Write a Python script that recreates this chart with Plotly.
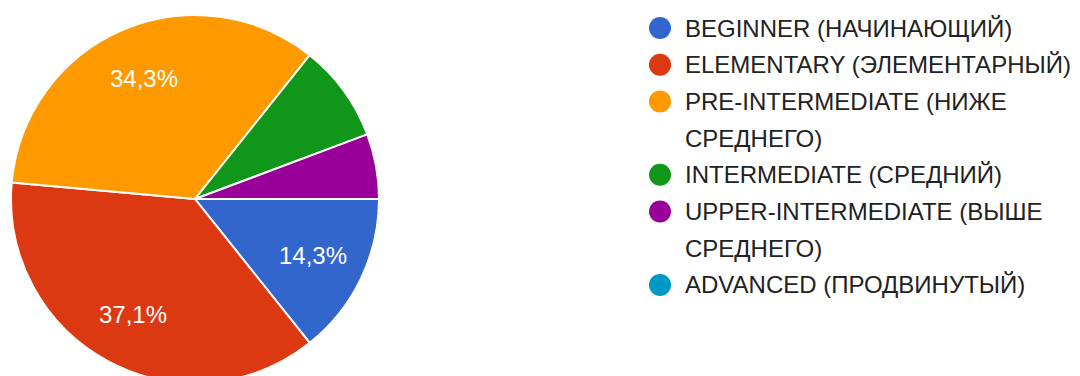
import math
import plotly.graph_objects as go

# Survey answers: English level of respondents
levels = [
    "BEGINNER (НАЧИНАЮЩИЙ)",
    "ELEMENTARY (ЭЛЕМЕНТАРНЫЙ)",
    "PRE-INTERMEDIATE (НИЖЕ СРЕДНЕГО)",
    "INTERMEDIATE (СРЕДНИЙ)",
    "UPPER-INTERMEDIATE (ВЫШЕ СРЕДНЕГО)",
    "ADVANCED (ПРОДВИНУТЫЙ)",
]
# legend text, wrapped the way it is printed
legend_lines = [
    ["BEGINNER (НАЧИНАЮЩИЙ)"],
    ["ELEMENTARY (ЭЛЕМЕНТАРНЫЙ)"],
    ["PRE-INTERMEDIATE (НИЖЕ", "СРЕДНЕГО)"],
    ["INTERMEDIATE (СРЕДНИЙ)"],
    ["UPPER-INTERMEDIATE (ВЫШЕ", "СРЕДНЕГО)"],
    ["ADVANCED (ПРОДВИНУТЫЙ)"],
]
responses = [5, 13, 12, 3, 2, 0]
show_pct = [True, True, True, False, False, False]

colors = ["#3366cc", "#dc3912", "#ff9900", "#109618", "#990099", "#0099c6"]
FONT = "Liberation Sans, Arial, sans-serif"
TEXT_COLOR = "#222222"

W, H = 1080, 384
# pie geometry, px (y measured from the top)
PIE_CX, PIE_CY, PIE_R = 195, 199, 184
LABEL_RADIUS = 0.71          # fraction of the radius where slice labels sit
START_ANGLE = 90             # first slice starts at 3 o'clock
# legend geometry, px
LINE_H = 36.7
FIRST_LINE = 28
DOT_X = 660
TEXT_X = 683

fig = go.Figure()

fig.add_trace(go.Pie(
    labels=levels,
    values=responses,
    sort=False,
    direction="clockwise",
    rotation=START_ANGLE,
    marker=dict(colors=colors, line=dict(color="white", width=2)),
    textinfo="none",
    domain=dict(x=[(PIE_CX - PIE_R) / W, (PIE_CX + PIE_R) / W],
                y=[(H - PIE_CY - PIE_R) / H, (H - PIE_CY + PIE_R) / H]),
    showlegend=False,
    hoverinfo="label+percent",
))

annotations = []

# percentage labels on the larger slices, placed along each slice's bisector
total = sum(responses)
cum = 0
for v, show in zip(responses, show_pct):
    mid = cum + v / 2
    cum += v
    if not show:
        continue
    # clockwise from 3 o'clock, screen y grows downward
    ang = math.radians(360 * mid / total)
    lx = PIE_CX + LABEL_RADIUS * PIE_R * math.cos(ang)
    ly = PIE_CY + LABEL_RADIUS * PIE_R * math.sin(ang)
    pct = f"{100 * v / total:.1f}".replace(".", ",") + "%"
    annotations.append(dict(
        x=lx, y=ly, xref="x", yref="y", text=pct, showarrow=False,
        xanchor="center", yanchor="middle",
        font=dict(family=FONT, size=24, color="white"),
    ))

# legend rows: one dot per level, placed on its first text line
start_line = []
idx = 0
for lines in legend_lines:
    start_line.append(idx)
    idx += len(lines)

fig.add_trace(go.Scatter(
    x=[DOT_X] * len(levels),
    y=[FIRST_LINE + LINE_H * s for s in start_line],
    mode="markers",
    marker=dict(symbol="circle", size=22, color=colors, line=dict(width=0)),
    showlegend=False,
    hoverinfo="skip",
    xaxis="x", yaxis="y",
))

for start, lines in zip(start_line, legend_lines):
    for k, line in enumerate(lines):
        annotations.append(dict(
            x=TEXT_X, y=FIRST_LINE + LINE_H * (start + k), xref="x", yref="y",
            text=line, showarrow=False,
            xanchor="left", yanchor="middle",
            font=dict(family=FONT, size=24, color=TEXT_COLOR),
        ))

fig.update_layout(
    width=W, height=H,
    margin=dict(l=0, r=0, t=0, b=0),
    paper_bgcolor="white",
    plot_bgcolor="rgba(0,0,0,0)",
    showlegend=False,
    annotations=annotations,
    xaxis=dict(domain=[0, 1], range=[0, W], visible=False, fixedrange=True),
    yaxis=dict(domain=[0, 1], range=[H, 0], visible=False, fixedrange=True),
    font=dict(family=FONT),
)

fig.write_html(
    "out.html",
    config={"displayModeBar": False},
    post_script="document.documentElement.style.overflow='hidden';"
                "document.body.style.overflow='hidden';",
)
